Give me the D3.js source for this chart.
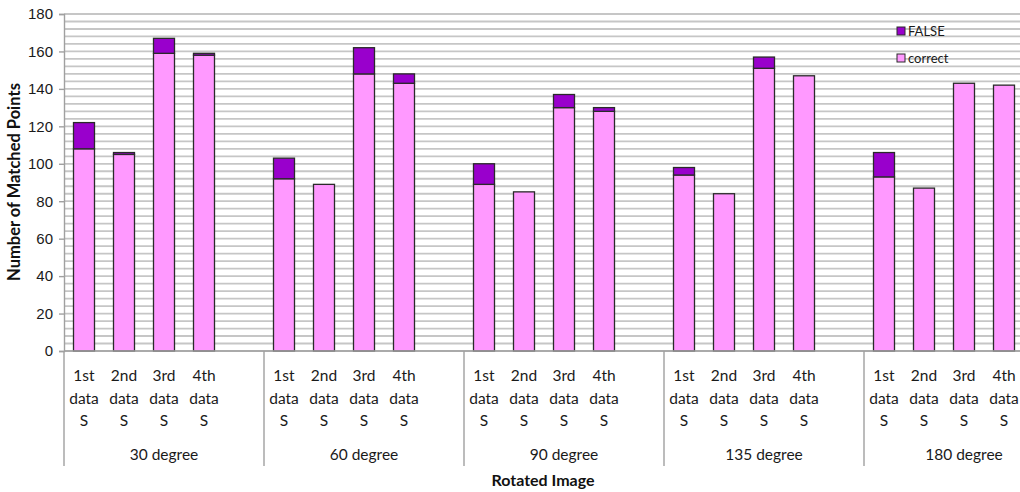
<!DOCTYPE html>
<html>
<head>
<meta charset="utf-8">
<script src="https://cdn.jsdelivr.net/npm/d3@7"></script>
<style>
  html, body { margin: 0; padding: 0; background: #fff; }
  svg { display: block; font-family: Lato, "Open Sans", sans-serif; }
</style>
</head>
<body>
<svg id="chart" width="1020" height="492"></svg>
<script>
// Rotation groups and the data sets inside each group
const groups = ["30 degree", "60 degree", "90 degree", "135 degree", "180 degree"];
const dataSets = ["1st", "2nd", "3rd", "4th"];
const seriesKeys = ["correct", "FALSE"];

// Matched points per data set, one row per rotation group
const correctValues = [
  [108, 105, 159, 158],
  [92, 89, 148, 143],
  [89, 85, 130, 128],
  [94, 84, 151, 147],
  [93, 87, 143, 142]
];
const falseValues = [
  [14, 1, 8, 1],
  [11, 0, 14, 5],
  [11, 0, 7, 2],
  [4, 0, 6, 0],
  [13, 0, 0, 0]
];

const yTicks = [0, 20, 40, 60, 80, 100, 120, 140, 160, 180];
const minorStep = 4;

const colors = { correct: "#ff99ff", FALSE: "#9900cc" };

// Flatten into one row per bar
const rows = [];
groups.forEach((g, gi) => {
  dataSets.forEach((d, di) => {
    rows.push({ group: g, set: d, correct: correctValues[gi][di], FALSE: falseValues[gi][di] });
  });
});

const svg = d3.select("#chart");
const margin = { left: 64, top: 14, bottom: 351 };

const y = d3.scaleLinear().domain([0, 180]).range([margin.bottom, margin.top]);

// Each group holds four bars plus one empty slot
const x0 = d3.scaleBand().domain(groups).range([margin.left, margin.left + 1000]).padding(0);
const x1 = d3.scaleBand().domain([...dataSets, ""]).range([0, x0.bandwidth()])
  .paddingInner(0.45).paddingOuter(0.225);

// Gridlines (every 4 units)
const gridVals = d3.range(0, 181, minorStep);
svg.append("g").selectAll("line").data(gridVals).join("line")
  .attr("x1", margin.left).attr("x2", 1020)
  .attr("y1", d => y(d)).attr("y2", d => y(d))
  .attr("stroke", "#c6c6c6").attr("stroke-width", 1.8);

// Stacked bars
const stacked = d3.stack().keys(seriesKeys)(rows);
const barG = svg.append("g");
stacked.forEach(layer => {
  barG.append("g").selectAll("rect").data(layer).join("rect")
    .filter(d => d[1] - d[0] > 0)
    .attr("x", d => x0(d.data.group) + x1(d.data.set) + 0.5)
    .attr("width", x1.bandwidth() - 1)
    .attr("y", d => y(d[1]))
    .attr("height", d => y(d[0]) - y(d[1]))
    .attr("fill", colors[layer.key])
    .attr("stroke", "#2a2a2a").attr("stroke-width", 1.3);
});

// Y axis
const yAxis = svg.append("g").attr("transform", `translate(${margin.left},0)`)
  .call(d3.axisLeft(y).tickValues(yTicks).tickSize(5).tickPadding(6));
yAxis.select(".domain").attr("stroke", "#a0a0a0").attr("stroke-width", 1.4);
yAxis.selectAll(".tick line").attr("stroke", "#a0a0a0").attr("stroke-width", 1.4);
yAxis.selectAll("text").attr("font-size", 15).attr("fill", "#1a1a1a");

// X baseline
svg.append("line").attr("x1", margin.left).attr("x2", 1020)
  .attr("y1", y(0)).attr("y2", y(0))
  .attr("stroke", "#a0a0a0").attr("stroke-width", 1.4);

// Group separators
svg.append("g").selectAll("line").data(groups).join("line")
  .attr("x1", d => Math.round(x0(d))).attr("x2", d => Math.round(x0(d)))
  .attr("y1", y(0)).attr("y2", 466)
  .attr("stroke", "#a0a0a0").attr("stroke-width", 1.4);

// Data set labels, three lines each
const labelG = svg.append("g").attr("font-size", 15.5).attr("fill", "#1a1a1a").attr("text-anchor", "middle");
rows.forEach(r => {
  const cx = x0(r.group) + x1(r.set) + x1.bandwidth() / 2;
  const t = labelG.append("text");
  [r.set, "data", "S"].forEach((s, i) => {
    t.append("tspan").attr("x", cx).attr("y", 381 + i * 22.5).text(s);
  });
});

// Group labels
svg.append("g").selectAll("text").data(groups).join("text")
  .attr("x", d => x0(d) + x0.bandwidth() / 2).attr("y", 460)
  .attr("text-anchor", "middle").attr("font-size", 15.5).attr("fill", "#1a1a1a")
  .text(d => d);

// Axis titles
svg.append("text").attr("x", 543).attr("y", 486).attr("text-anchor", "middle")
  .attr("font-size", 16).attr("font-weight", "bold").attr("fill", "#111")
  .text("Rotated Image");
svg.append("text").attr("transform", "translate(20,182) rotate(-90)")
  .attr("text-anchor", "middle").attr("font-size", 16.5).attr("font-weight", "bold").attr("fill", "#111")
  .text("Number of Matched Points");

// Legend
const legendItems = ["FALSE", "correct"];
const legend = svg.append("g").attr("transform", "translate(897,27)");
legendItems.forEach((k, i) => {
  const g = legend.append("g").attr("transform", `translate(0,${i * 27})`);
  g.append("rect").attr("width", 8).attr("height", 8)
    .attr("fill", colors[k]).attr("stroke", "#2a2a2a").attr("stroke-width", 1);
  g.append("text").attr("x", 11).attr("y", 9).attr("font-size", 13).attr("fill", "#1a1a1a").text(k);
});
</script>
</body>
</html>
